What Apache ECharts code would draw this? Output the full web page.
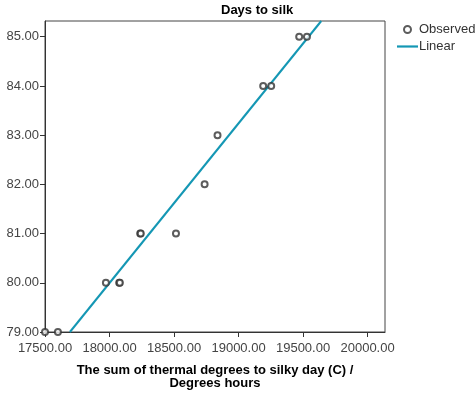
<!DOCTYPE html>
<html>
<head>
<meta charset="utf-8">
<script src="https://cdn.jsdelivr.net/npm/echarts@6/dist/echarts.min.js"></script>
<style>
  html, body { margin: 0; padding: 0; background: #fff; }
  #chart { width: 476px; height: 395px; }
</style>
</head>
<body>
<div id="chart"></div>
<script>
// Observed thermal sums (degree hours) and days to silk
const thermalSum = [17500, 17600, 17972, 18075, 18080, 18238, 18242, 18515, 18737, 18837, 19191, 19253, 19470, 19530];
const daysToSilk = [79, 79, 80, 80, 80, 81, 81, 81, 82, 83, 84, 84, 85, 85];

// Linear fit, given by where it enters and leaves the plotting area
const fitX = [17693, 19641];
const fitY = [79, 85.32];

const xRange = [17500, 20135];
const yRange = [79, 85.32];

const chart = echarts.init(document.getElementById('chart'), null, { renderer: 'canvas' });

const font = '"Liberation Sans", Arial, sans-serif';

chart.setOption({
  animation: false,
  title: {
    text: 'Days to silk',
    left: 221, top: 4, padding: 0,
    textStyle: { fontFamily: font, fontSize: 13, fontWeight: 'bold', color: '#000' }
  },
  legend: {
    orient: 'vertical',
    left: 397, top: 23, padding: 0,
    itemWidth: 21, itemHeight: 7, itemGap: 4,
    textStyle: { fontFamily: font, fontSize: 13, color: '#333', padding: [0, 0, 0, -4] },
    data: [
      { name: 'Observed', icon: 'emptyCircle' },
      { name: 'Linear', icon: 'path://M0,0 L21,0 L21,2.2 L0,2.2 Z' }
    ]
  },
  grid: {
    left: 45, top: 21, right: 91, bottom: 61,
    show: true, borderColor: '#444', borderWidth: 1, backgroundColor: '#fff'
  },
  xAxis: {
    type: 'value',
    min: xRange[0], max: xRange[1], interval: 500,
    name: 'The sum of thermal degrees to silky day (C) /\nDegrees hours',
    nameLocation: 'middle', nameGap: 32,
    nameTextStyle: { fontFamily: font, fontSize: 13, fontWeight: 'bold', color: '#000', lineHeight: 13 },
    axisLine: { show: true, onZero: false, lineStyle: { color: '#333', width: 1 } },
    axisTick: { show: true, length: 5, lineStyle: { color: '#333' } },
    axisLabel: {
      showMaxLabel: false, margin: 10,
      fontFamily: font, fontSize: 13, color: '#444',
      formatter: v => v.toFixed(2)
    },
    splitLine: { show: false }
  },
  yAxis: {
    type: 'value',
    min: yRange[0], max: yRange[1], interval: 1,
    axisLine: { show: true, onZero: false, lineStyle: { color: '#333', width: 1 } },
    axisTick: { show: true, length: 5, lineStyle: { color: '#333' } },
    axisLabel: {
      showMaxLabel: false, margin: 6,
      fontFamily: font, fontSize: 13, color: '#444',
      formatter: v => v.toFixed(2)
    },
    splitLine: { show: false }
  },
  series: [
    {
      name: 'Observed',
      type: 'scatter',
      symbol: 'emptyCircle',
      symbolSize: 6,
      itemStyle: { color: '#333', borderWidth: 0.9 },
      data: thermalSum.map((x, i) => [x, daysToSilk[i]]),
      z: 3
    },
    {
      name: 'Linear',
      type: 'line',
      symbol: 'none',
      lineStyle: { color: '#1497b4', width: 2 },
      itemStyle: { color: '#1497b4' },
      data: fitX.map((x, i) => [x, fitY[i]]),
      z: 2
    }
  ]
});
</script>
</body>
</html>
